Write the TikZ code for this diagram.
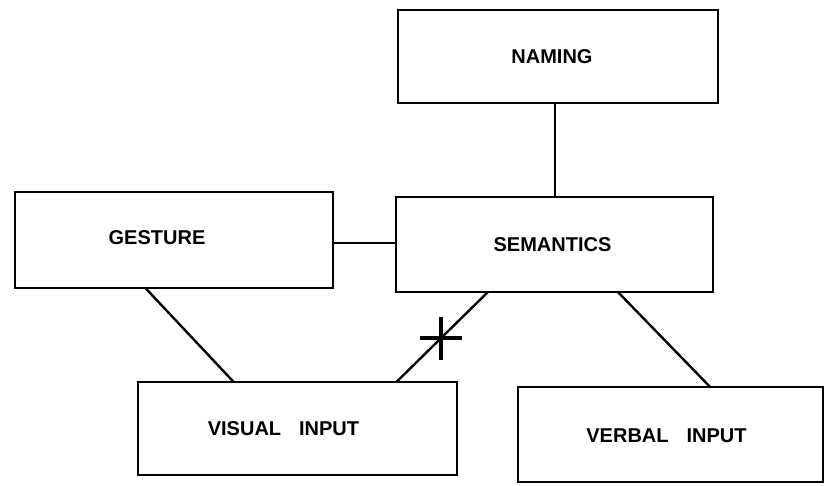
\documentclass[tikz,border=0pt]{standalone}
\usepackage{fontspec}
\setmainfont{Liberation Sans}
\usetikzlibrary{calc}

\tikzset{
  box/.style={draw, line width=2.6pt, inner sep=0pt, outer sep=0pt},
  lbl/.style={font=\fontsize{20}{24}\selectfont\bfseries, inner sep=0pt},
  conn/.style={line width=2.4pt},
  cutmark/.style={line width=3.6pt}
}

\begin{document}
\begin{tikzpicture}[x=1pt,y=-1pt]
\useasboundingbox (0,0) rectangle (827,485);
% boxes
\node[box, minimum width=320pt, minimum height=93pt,
  label={[lbl,name=naminglbl,xshift=-6pt]center:NAMING}] (naming) at (558,56.5) {};
\node[box, minimum width=318pt, minimum height=96pt,
  label={[lbl,name=gesturelbl,xshift=-17pt,yshift=2pt]center:GESTURE}] (gesture) at (174,240) {};
\node[box, minimum width=317pt, minimum height=95pt,
  label={[lbl,name=semanticslbl,xshift=-2pt]center:SEMANTICS}] (semantics) at (554.5,244.5) {};
\node[box, minimum width=319pt, minimum height=93pt,
  label={[lbl,name=visuallbl,xshift=-14pt]center:VISUAL\hspace{0.9em}INPUT}] (visual) at (297.5,428.5) {};
\node[box, minimum width=305pt, minimum height=95pt,
  label={[lbl,name=verballbl,xshift=-4pt,yshift=-1.5pt]center:VERBAL\hspace{0.9em}INPUT}] (verbal) at (670.5,434.5) {};
% connectors
\coordinate (nm) at ($(naming.south west)!0.49!(naming.south east)$);
\coordinate (gs) at ($(gesture.east)+(0,3)$);
\draw[conn] (nm) -- (nm |- semantics.north);
\draw[conn] (gs) -- (gs -| semantics.west);
\draw[conn] ($(gesture.south west)!0.41!(gesture.south east)$) -- ($(visual.north west)!0.30!(visual.north east)$);
\draw[conn] ($(semantics.south west)!0.29!(semantics.south east)$) -- coordinate[pos=0.51] (cut) ($(visual.north west)!0.81!(visual.north east)$);
\draw[conn] ($(semantics.south west)!0.70!(semantics.south east)$) -- ($(verbal.north west)!0.63!(verbal.north east)$);
% cut mark
\draw[cutmark] ($(cut)+(-21,0)$) -- ($(cut)+(21,0)$)
  ($(cut)+(0,-21)$) -- ($(cut)+(0,22)$);
\end{tikzpicture}
\end{document}
